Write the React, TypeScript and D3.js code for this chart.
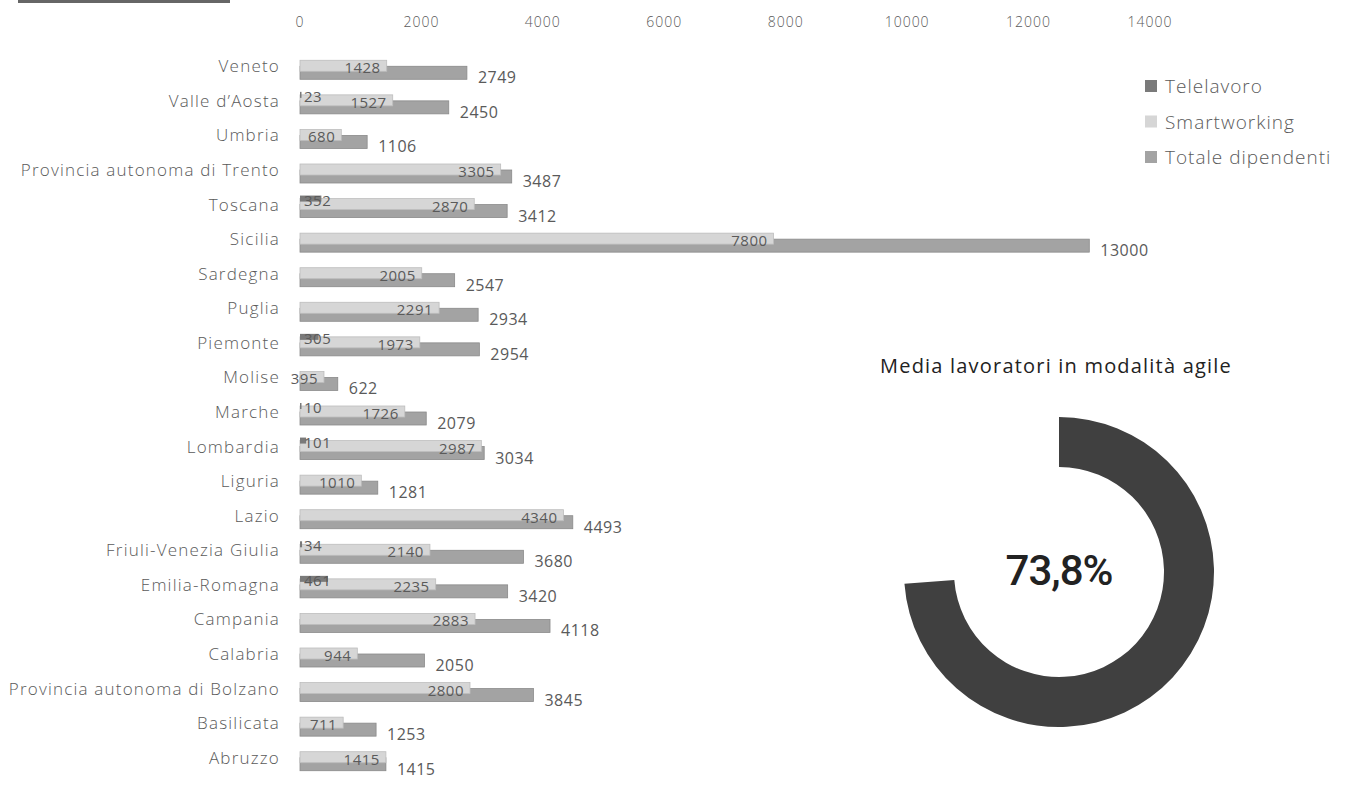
import React from "react";
import * as d3 from "d3";

const categories = [
  "Veneto", "Valle d’Aosta", "Umbria", "Provincia autonoma di Trento", "Toscana", "Sicilia",
  "Sardegna", "Puglia", "Piemonte", "Molise", "Marche", "Lombardia", "Liguria", "Lazio",
  "Friuli-Venezia Giulia", "Emilia-Romagna", "Campania", "Calabria",
  "Provincia autonoma di Bolzano", "Basilicata", "Abruzzo",
];
const telelavoro: (number | null)[] = [
  null, 23, null, null, 352, null, null, null, 305, null, 10, 101, null, null, 34, 461, null, null, null, null, null,
];
const smartworking = [
  1428, 1527, 680, 3305, 2870, 7800, 2005, 2291, 1973, 395, 1726, 2987, 1010, 4340, 2140, 2235, 2883, 944, 2800, 711, 1415,
];
const totale = [
  2749, 2450, 1106, 3487, 3412, 13000, 2547, 2934, 2954, 622, 2079, 3034, 1281, 4493, 3680, 3420, 4118, 2050, 3845, 1253, 1415,
];
const xTicks = [0, 2000, 4000, 6000, 8000, 10000, 12000, 14000];
const legendItems = ["Telelavoro", "Smartworking", "Totale dipendenti"];
const donutTitle = "Media lavoratori in modalità agile";
const agilePct = 73.8;

const W = 1348;
const H = 792;
const FONT = "'Open Sans', 'Noto Sans', sans-serif";
const TXT = "#5a5a5a";
const C_TELE = "#7a7a7a";
const C_SMART = "#d6d6d6";
const C_TOT = "#a3a3a3";

export default function App() {
  const x = d3.scaleLinear().domain([0, 14000]).range([300, 1150]);
  const y = d3.scaleBand<string>().domain(categories).range([50, 776]);
  const bw = y.bandwidth();
  const cy = (c: string) => (y(c) as number) + bw / 2;

  const cx0 = 1059;
  const cy0 = 572;
  const arc = d3.arc<any>().innerRadius(105).outerRadius(155);
  const pie = d3.pie<number>().sort(null).value((d) => d);
  const slices = pie([agilePct, 100 - agilePct]);

  return (
    <svg width={W} height={H} style={{ position: "absolute", left: 0, top: 0, background: "#fff" }} fontFamily={FONT}>
      <rect x={18} y={0} width={212} height={3} fill="#666" />
      {/* top axis labels */}
      {xTicks.map((t) => (
        <text key={t} x={x(t)} y={27} textAnchor="middle" fontSize={14} letterSpacing={1} fill={TXT} fontWeight={300}>
          {t}
        </text>
      ))}
      {/* category labels */}
      {categories.map((c) => (
        <text key={c} x={280} y={cy(c) + 5} textAnchor="end" fontSize={17} letterSpacing={1.2} fill={TXT} fontWeight={300}>
          {c}
        </text>
      ))}
      {/* bars */}
      {categories.map((c, i) => {
        const m = cy(c) + 1;
        const t = telelavoro[i];
        return (
          <g key={c}>
            <rect x={x(0)} y={m - 2} width={x(totale[i]) - x(0)} height={13} fill={C_TOT} stroke="#8a8a8a" strokeWidth={0.8} />
            <rect x={x(0)} y={m - 8} width={x(smartworking[i]) - x(0)} height={11} fill={C_SMART} stroke="#bdbdbd" strokeWidth={0.8} />
            {t != null && (
              <rect x={x(0)} y={m - 11} width={Math.max(1.5, x(t) - x(0))} height={6} fill={C_TELE} />
            )}
          </g>
        );
      })}
      {/* labels */}
      {categories.map((c, i) => {
        const m = cy(c) + 1;
        const t = telelavoro[i];
        return (
          <g key={"l" + c} fontSize={15} fill={TXT} letterSpacing={0.5}>
            {t != null && (
              <text x={304} y={m - 1}>{t}</text>
            )}
            <text x={x(smartworking[i]) - 6} y={m + 5} textAnchor="end">{smartworking[i]}</text>
            <text x={x(totale[i]) + 11} y={m + 15} fontSize={16}>{totale[i]}</text>
          </g>
        );
      })}
      {/* legend */}
      {legendItems.map((l, i) => {
        const ly = 86 + i * 35.5;
        const col = [C_TELE, C_SMART, C_TOT][i];
        return (
          <g key={l}>
            <rect x={1145} y={ly - 6} width={12} height={12} fill={col} />
            <text x={1165} y={ly + 7} fontSize={19} letterSpacing={1} fill={TXT} fontWeight={300}>{l}</text>
          </g>
        );
      })}
      {/* donut */}
      <text x={1056} y={373} textAnchor="middle" fontSize={20} letterSpacing={1.2} fill="#222">{donutTitle}</text>
      <g transform={`translate(${cx0},${cy0})`}>
        <path d={arc(slices[0] as any) as string} fill="#404040" />
        <text x={0} y={13} textAnchor="middle" fontSize={42} letterSpacing={-1} fontWeight={500} fill="#222" fontFamily="Roboto, sans-serif">
          {agilePct.toFixed(1).replace(".", ",")}%
        </text>
      </g>
    </svg>
  );
}
